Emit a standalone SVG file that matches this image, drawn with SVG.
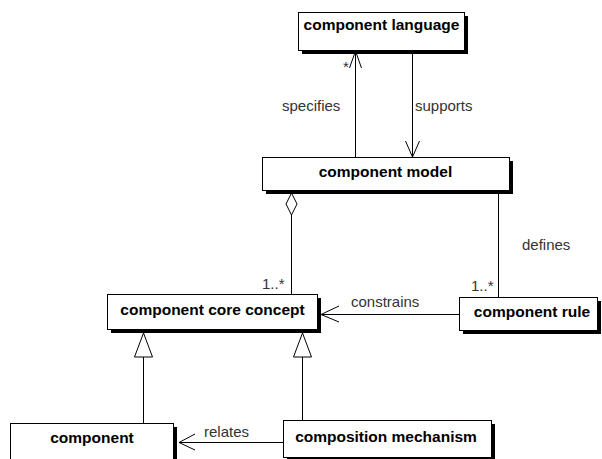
<svg xmlns="http://www.w3.org/2000/svg" width="602" height="459" viewBox="0 0 602 459">
<style>
.box{fill:#fff;stroke:#000;stroke-width:1}
.sh{fill:#000}
.nm{font-family:"Liberation Sans",Arial,sans-serif;font-weight:bold;font-size:15.5px;fill:#000;text-anchor:middle}
.lb{font-family:"Liberation Sans",Arial,sans-serif;font-size:15px;fill:#333}
.ln{fill:none;stroke:#000;stroke-width:1}
.hd{fill:#fff;stroke:#000;stroke-width:1}
</style>
<rect width="602" height="459" fill="#fff"/>
<g id="connectors">
<line class="ln" x1="355.5" y1="51" x2="355.5" y2="157"/>
<polyline class="ln" points="349.5,68 355.5,51 361.5,68"/>
<line class="ln" x1="412.5" y1="51" x2="412.5" y2="157"/>
<polyline class="ln" points="405.5,141 412.5,157 419.5,141"/>
<line class="ln" x1="291.5" y1="215" x2="291.5" y2="294"/>
<polygon class="hd" points="291.5,193 297,204 291.5,215 286,204"/>
<line class="ln" x1="498.5" y1="190" x2="498.5" y2="297"/>
<line class="ln" x1="321" y1="314.5" x2="459" y2="314.5"/>
<polyline class="ln" points="339,306 321,314.5 339,322"/>
<line class="ln" x1="143.5" y1="357" x2="143.5" y2="423" stroke="#555"/>
<polygon class="hd" points="143.5,333 152.5,357 134.5,357"/>
<line class="ln" x1="302.5" y1="357" x2="302.5" y2="420"/>
<polygon class="hd" points="302.5,333 311.5,357 293.5,357"/>
<line class="ln" x1="179" y1="442.5" x2="283" y2="442.5" stroke="#555"/>
<polyline class="ln" points="195,434 179,442.5 195,450" stroke="#555"/>
<text class="lb" x="343" y="72">*</text>
<text class="lb" x="282" y="111">specifies</text>
<text class="lb" x="415" y="111">supports</text>
<text class="lb" x="522" y="250">defines</text>
<text class="lb" x="262" y="289">1..*</text>
<text class="lb" x="471" y="291">1..*</text>
<text class="lb" x="351" y="307">constrains</text>
<text class="lb" x="204" y="437">relates</text>
</g>
<g id="component-language">
<rect class="sh" x="302" y="16" width="166" height="38"/>
<rect class="box" x="298.5" y="12.5" width="166" height="38"/>
<text class="nm" x="381.5" y="30">component language</text>
</g>
<g id="component-model">
<rect class="sh" x="266" y="161" width="247" height="33"/>
<rect class="box" x="262.5" y="157.5" width="247" height="33"/>
<text class="nm" x="385.5" y="177">component model</text>
</g>
<g id="component-core-concept">
<rect class="sh" x="111" y="298" width="210" height="35"/>
<rect class="box" x="107.5" y="294.5" width="210" height="35"/>
<text class="nm" x="212.5" y="315">component core concept</text>
</g>
<g id="component-rule">
<rect class="sh" x="463" y="301" width="138" height="33"/>
<rect class="box" x="459.5" y="297.5" width="138" height="33"/>
<text class="nm" x="532" y="317">component rule</text>
</g>
<g id="component">
<rect class="sh" x="14" y="427" width="163" height="40"/>
<rect class="box" x="10.5" y="423.5" width="163" height="40"/>
<text class="nm" x="92" y="443">component</text>
</g>
<g id="composition-mechanism">
<rect class="sh" x="287" y="424" width="208" height="37"/>
<rect class="box" x="283.5" y="420.5" width="208" height="37"/>
<text class="nm" x="386" y="442">composition mechanism</text>
</g>
</svg>
